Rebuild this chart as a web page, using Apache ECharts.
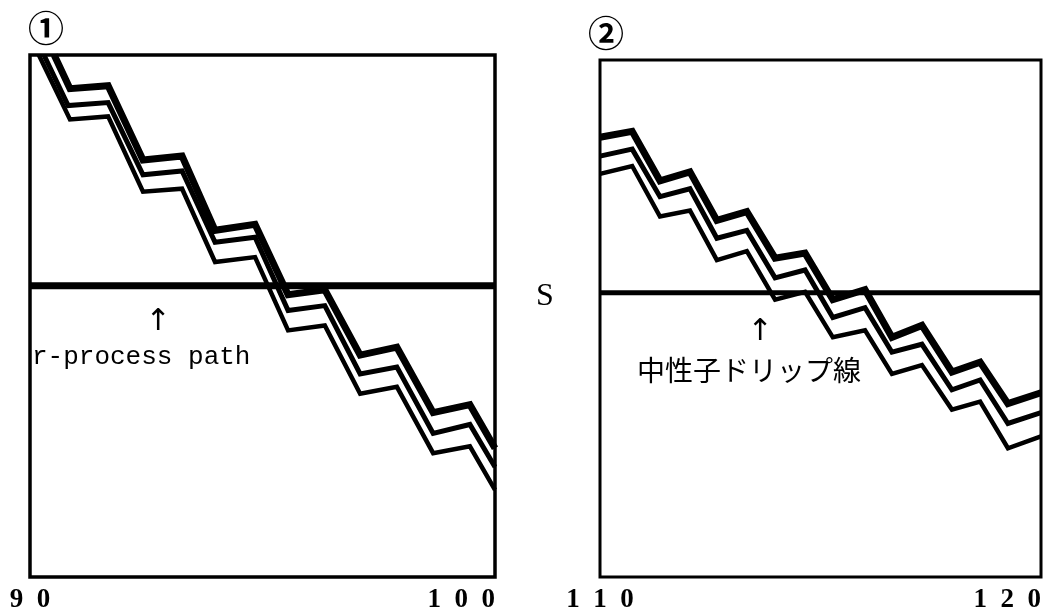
<!DOCTYPE html>
<html>
<head>
<meta charset="utf-8">
<script src="https://cdn.jsdelivr.net/npm/echarts@6/dist/echarts.min.js"></script>
<style>
html,body{margin:0;padding:0;background:#fff;}
#chart{width:1055px;height:614px;}
</style>
</head>
<body>
<div id="chart"></div>
<script>
// ---- data (arbitrary S units on the vertical axis) ----
const p1Ticks = [90, 100];
const p2Ticks = [110, 120];

const p1AX = [90.52, 90.86, 91.68, 92.43, 93.27, 93.98, 94.84, 95.55, 96.34, 97.10, 97.89, 98.67, 99.46, 100];
const p1AY = [54.5, 51.1, 51.4, 43.9, 44.3, 36.8, 37.4, 30.3, 30.8, 24.2, 25.0, 18.4, 19.2, 14.8];
const p1BX = [90.30, 90.82, 91.68, 92.43, 93.27, 93.98, 94.84, 95.55, 96.34, 97.10, 97.89, 98.67, 99.46, 100];
const p1BY = [54.5, 49.4, 49.7, 42.4, 42.8, 35.6, 36.1, 28.7, 29.2, 22.3, 23.0, 16.3, 17.2, 12.9];
const p1CX = [90.19, 90.86, 91.68, 92.43, 93.27, 93.98, 94.84, 95.55, 96.34, 97.10, 97.89, 98.67, 99.46, 100];
const p1CY = [54.5, 48.0, 48.3, 40.7, 41.0, 33.6, 34.1, 26.7, 27.2, 20.3, 21.0, 14.3, 15.0, 10.6];
const p1S = 31.2;

const p2X  = [110, 110.73, 111.36, 112.04, 112.65, 113.33, 113.97, 114.65, 115.28, 116.01, 116.62, 117.30, 117.98, 118.62, 119.25, 120];
const p2AY = [46.2, 46.8, 41.8, 42.7, 37.8, 38.7, 34.0, 34.5, 29.8, 30.8, 26.0, 27.2, 22.5, 23.5, 19.3, 20.4];
const p2BY = [44.3, 45.0, 40.2, 41.0, 36.0, 36.8, 32.0, 32.8, 28.0, 29.0, 24.5, 25.3, 20.7, 21.7, 17.3, 18.4];
const p2CY = [42.5, 43.3, 38.2, 38.8, 33.8, 34.7, 29.8, 30.6, 26.0, 26.7, 22.3, 23.2, 18.7, 19.5, 14.8, 16.0];
const p2S = 30.5;

const yRange1 = [1.8, 54.5];
const yRange2 = [1.8, 54.0];

// ---- helpers ----
const zip = (xs, ys) => xs.map((x, i) => [x, ys[i]]);
const spaced = v => String(v).split('').join('  ');

function stair(xi, data, w) {
  return {
    type: 'line', xAxisIndex: xi, yAxisIndex: xi, data: data,
    symbol: 'none', clip: true, animation: false, silent: true,
    lineStyle: { color: '#000', width: w, join: 'miter' }
  };
}

function xAxisFor(gi, ticks) {
  return {
    type: 'value', gridIndex: gi, min: ticks[0], max: ticks[1], interval: ticks[1] - ticks[0],
    axisLine: { show: false }, axisTick: { show: false }, splitLine: { show: false },
    axisLabel: {
      show: true, margin: 10, color: '#000', fontSize: 27, fontWeight: 'bold',
      fontFamily: 'Liberation Serif', formatter: spaced,
      alignMinLabel: 'center', alignMaxLabel: 'right'
    }
  };
}
function yAxisFor(gi, r) {
  return {
    type: 'value', gridIndex: gi, min: r[0], max: r[1],
    axisLine: { show: false }, axisTick: { show: false }, splitLine: { show: false },
    axisLabel: { show: false }
  };
}

const chart = echarts.init(document.getElementById('chart'));
chart.setOption({
  backgroundColor: '#fff',
  animation: false,
  grid: [
    { left: 30, top: 55, width: 465, height: 527, show: true, borderColor: '#000', borderWidth: 3.5, backgroundColor: 'transparent' },
    { left: 600, top: 60, width: 441, height: 522, show: true, borderColor: '#000', borderWidth: 3, backgroundColor: 'transparent' }
  ],
  xAxis: [xAxisFor(0, p1Ticks), xAxisFor(1, p2Ticks)],
  yAxis: [yAxisFor(0, yRange1), yAxisFor(1, yRange2)],
  series: [
    stair(0, [[p1Ticks[0], p1S], [p1Ticks[1], p1S]], 7),
    stair(0, zip(p1CX, p1CY), 4.5),
    stair(0, zip(p1BX, p1BY), 5),
    stair(0, zip(p1AX, p1AY), 7),
    stair(1, [[p2Ticks[0], p2S], [p2Ticks[1], p2S]], 5),
    stair(1, zip(p2X, p2CY), 4.5),
    stair(1, zip(p2X, p2BY), 5),
    stair(1, zip(p2X, p2AY), 7)
  ],
  graphic: [
    { type: 'text', left: 28, top: 10, style: { text: '①', font: 'bold 36px "Noto Sans CJK JP"', fill: '#000' } },
    { type: 'text', left: 588, top: 15, style: { text: '②', font: 'bold 36px "Noto Sans CJK JP"', fill: '#000' } },
    { type: 'text', x: 545, y: 297, style: { text: 'S', font: '32px "Liberation Serif"', fill: '#000', align: 'center', verticalAlign: 'middle' } },
    { type: 'text', x: 158, y: 322, style: { text: '↑', font: '30px "DejaVu Sans"', fill: '#000', align: 'center', verticalAlign: 'middle' } },
    { type: 'text', x: 32, y: 357, style: { text: 'r-process path', font: '26px "Liberation Mono"', fill: '#000', align: 'left', verticalAlign: 'middle' } },
    { type: 'text', x: 760, y: 332, style: { text: '↑', font: '30px "DejaVu Sans"', fill: '#000', align: 'center', verticalAlign: 'middle' } },
    { type: 'text', x: 637, y: 370, style: { text: '中性子ドリップ線', font: '28px "Noto Sans CJK JP"', fill: '#000', align: 'left', verticalAlign: 'middle' } }
  ]
});
</script>
</body>
</html>
